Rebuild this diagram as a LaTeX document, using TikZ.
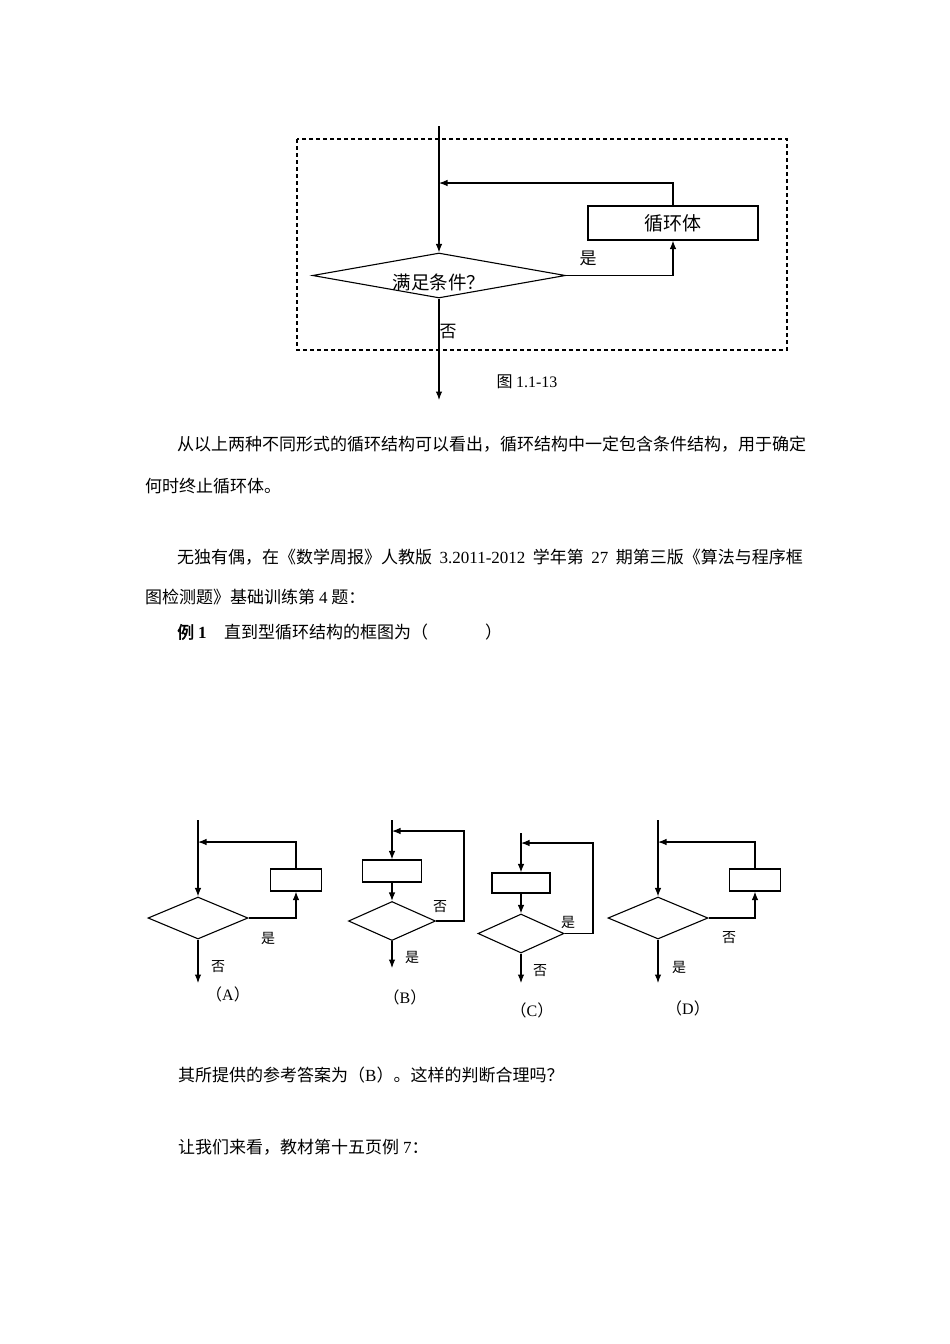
\documentclass[tikz,border=0pt]{standalone}
\usepackage{fontspec}
\setmainfont[AutoFakeBold=2]{Noto Sans CJK SC}
\newfontfamily\lat{Liberation Serif}
\usetikzlibrary{arrows.meta,shapes.geometric}
\begin{document}
\begin{tikzpicture}[x=1pt,y=-1pt,
  ln/.style={line width=1.1pt},
  arr/.style={line width=1.1pt,-{Latex[length=8.5pt,width=6.5pt]}},
  dmd/.style={draw,line width=1.1pt,diamond,inner sep=0pt,aspect=5},
  bx/.style={draw,line width=1.1pt,rectangle,inner sep=0pt},
  txt/.style={anchor=west,inner sep=0pt,font=\fontsize{17}{17}\selectfont},
  lbl/.style={inner sep=0pt,font=\fontsize{17}{17}\selectfont},
  slbl/.style={inner sep=0pt,font=\fontsize{14}{14}\selectfont},
  captxt/.style={inner sep=0pt,font=\fontsize{16}{16}\selectfont}]
\useasboundingbox[fill=white] (0,0) rectangle (950,1344);

% ---------- top diagram ----------
\draw[ln,dash pattern=on 4pt off 3pt] (297,139) rectangle (787,350);
\coordinate (top0) at (439,126);
\node[dmd,minimum width=253,minimum height=45] (cond) at (439,275.5) {};
\node[lbl,font=\fontsize{18.5}{18.5}\selectfont] (condt) at (439,282) {满足条件？};
\node[bx,minimum width=170,minimum height=34,font=\fontsize{19}{19}\selectfont] (body) at (673,223) {循环体};
\coordinate (back) at (439,183);
\coordinate (out) at (439,400);
\draw[arr] (top0) -- (cond.north);
\draw[arr] (cond.east) -| (body.south);
\draw[arr] (body.north) |- (back);
\draw[arr] (cond.south) -- (out);
\node[lbl] (yes0) at (588,258) {是};
\node[lbl] (no0) at (448,332) {否};
\node[captxt] (fig) at (527,382) {图 {\lat 1.1-13}};

% ---------- paragraphs ----------
\node[txt] (p1) at (177,444) {从以上两种不同形式的循环结构可以看出，循环结构中一定包含条件结构，用于确定};
\node[txt] (p2) at (145,486) {何时终止循环体。};
\node[txt] (p3) at (177,557) {无独有偶，在《数学周报》人教版\hspace{7.5pt}{\lat 3.2011-2012}\hspace{7.5pt}学年第\hspace{7.5pt}{\lat 27}\hspace{7.5pt}期第三版《算法与程序框};
\node[txt] (p4) at (145,597) {图检测题》基础训练第 {\lat 4} 题：};
\node[txt] (p5a) at (177,632) {\bfseries 例 {\lat\bfseries 1}};
\node[txt] (p5b) at (224,632) {直到型循环结构的框图为（\hspace{57pt}）};

% ---------- (A) ----------
\coordinate (tA) at (198,820);
\node[dmd,minimum width=100,minimum height=42,aspect=2.4] (dA) at (198,918) {};
\node[bx,minimum width=51,minimum height=22] (bA) at (296,880) {};
\coordinate (rA) at (198,842);
\coordinate (oA) at (198,983);
\draw[arr] (tA) -- (dA.north);
\draw[arr] (dA.east) -| (bA.south);
\draw[arr] (bA.north) |- (rA);
\draw[arr] (dA.south) -- (oA);
\node[slbl] (yA) at (268,938) {是};
\node[slbl] (nA) at (218,967) {否};
\node[captxt] (cA) at (228,994) {（{\lat A}）};

% ---------- (B) ----------
\coordinate (tB) at (392,820);
\node[bx,minimum width=59,minimum height=22] (bB) at (392,871) {};
\node[dmd,minimum width=87,minimum height=39,aspect=2.2] (dB) at (392,921) {};
\coordinate (kB) at (464,831);
\coordinate (rB) at (392,831);
\coordinate (oB) at (392,968);
\draw[arr] (tB) -- (bB.north);
\draw[arr] (bB.south) -- (dB.north);
\draw[arr] (dB.east) -| (kB) -- (rB);
\draw[arr] (dB.south) -- (oB);
\node[slbl] (nB) at (440,907) {否};
\node[slbl] (yB) at (412,957) {是};
\node[captxt] (cB) at (405,997) {（{\lat B}）};

% ---------- (C) ----------
\coordinate (tC) at (521,833);
\node[bx,minimum width=58,minimum height=20] (bC) at (521,883) {};
\node[dmd,minimum width=86,minimum height=39,aspect=2.2] (dC) at (521,933.5) {};
\coordinate (kC) at (593,843);
\coordinate (rC) at (521,843);
\coordinate (oC) at (521,983);
\draw[arr] (tC) -- (bC.north);
\draw[arr] (bC.south) -- (dC.north);
\draw[arr] (dC.east) -| (kC) -- (rC);
\draw[arr] (dC.south) -- (oC);
\node[slbl] (yC) at (568,922) {是};
\node[slbl] (nC) at (540,971) {否};
\node[captxt] (cC) at (532,1010) {（{\lat C}）};

% ---------- (D) ----------
\coordinate (tD) at (658,820);
\node[dmd,minimum width=100,minimum height=42,aspect=2.4] (dD) at (658,918) {};
\node[bx,minimum width=51,minimum height=22] (bD) at (755,880) {};
\coordinate (rD) at (658,842);
\coordinate (oD) at (658,983);
\draw[arr] (tD) -- (dD.north);
\draw[arr] (dD.east) -| (bD.south);
\draw[arr] (bD.north) |- (rD);
\draw[arr] (dD.south) -- (oD);
\node[slbl] (nD) at (729,938) {否};
\node[slbl] (yD) at (679,967) {是};
\node[captxt] (cD) at (688,1008) {（{\lat D}）};

% ---------- closing text ----------
\node[txt] (q1) at (178,1075) {其所提供的参考答案为（{\lat B}）。这样的判断合理吗？};
\node[txt] (q2) at (178,1147) {让我们来看，教材第十五页例 {\lat 7}：};
\end{tikzpicture}
\end{document}
